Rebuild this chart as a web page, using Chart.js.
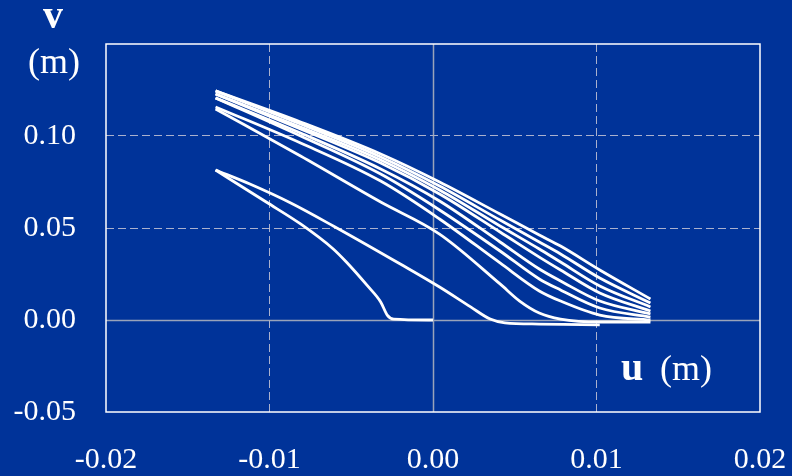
<!DOCTYPE html>
<html>
<head>
<meta charset="utf-8">
<script src="https://cdn.jsdelivr.net/npm/chart.js@4.4.1/dist/chart.umd.min.js"></script>
<style>
  html, body { margin: 0; padding: 0; background: #003399; }
  #wrap { width: 792px; height: 476px; }
</style>
</head>
<body>
<div id="wrap"><canvas id="chart"></canvas></div>
<script>
// tick labels
const xTicks = [-0.02, -0.01, 0.00, 0.01, 0.02];
const yTicks = [-0.05, 0.00, 0.05, 0.10];

// outer loops: shared u positions (m)
const uOuter = [-0.0133, -0.0081, -0.0032, 0.0004, 0.0041, 0.0065, 0.0078, 0.0102, 0.0133];
const vC1 = [0.1245, 0.1076, 0.0902, 0.0750, 0.0576, 0.0462, 0.0402, 0.0272, 0.0114];
const vC2 = [0.1245, 0.1065, 0.0886, 0.0728, 0.0543, 0.0424, 0.0359, 0.0228, 0.0092];
const vC3 = [0.1228, 0.1049, 0.0870, 0.0707, 0.0511, 0.0386, 0.0315, 0.0185, 0.0071];
const vC4 = [0.1228, 0.1038, 0.0853, 0.0685, 0.0478, 0.0342, 0.0272, 0.0147, 0.0049];
const vC5 = [0.1207, 0.1016, 0.0821, 0.0647, 0.0424, 0.0277, 0.0212, 0.0103, 0.0033];
const vC6 = [0.1207, 0.1000, 0.0793, 0.0598, 0.0375, 0.0223, 0.0163, 0.0065, 0.0016];
const vC7 = [0.1158, 0.0962, 0.0755, 0.0549, 0.0310, 0.0158, 0.0103, 0.0027, 0.0000];

// lowest outer loop has one extra point where it bends flat
const uC8 = [-0.0133, -0.0081, -0.0032, 0.0004, 0.0041, 0.0053, 0.0065, 0.0078, 0.0102, 0.0133];
const vC8 = [0.1147, 0.0891, 0.0641, 0.0467, 0.0196, 0.0103, 0.0038, 0.0005, -0.0011, -0.0011];

// first (small) loop, two branches
const uA = [-0.0133, -0.0102, -0.0081, -0.0061, -0.0053, -0.0040, -0.0032, -0.0028, -0.0024, 0.0000];
const vA = [0.0815, 0.0641, 0.0522, 0.0386, 0.0315, 0.0185, 0.0098, 0.0027, 0.0005, 0.0000];
const uB = [-0.0133, -0.0112, -0.0087, -0.0061, -0.0020, 0.0004, 0.0023, 0.0035, 0.0044, 0.0065, 0.0102];
const vB = [0.0815, 0.0739, 0.0636, 0.0511, 0.0304, 0.0179, 0.0071, 0.0005, -0.0016, -0.0022, -0.0027];

const curves = [
  [uA, vA], [uB, vB],
  [uOuter, vC1], [uOuter, vC2], [uOuter, vC3], [uOuter, vC4],
  [uOuter, vC5], [uOuter, vC6], [uOuter, vC7], [uC8, vC8]
];

const GRID = 'rgba(200,200,215,0.85)';
const isTick = (v, list) => list.some(t => Math.abs(t - v) < 1e-9);
const fmt = v => (Math.abs(v) < 1e-9 ? 0 : v).toFixed(2);

// solid zero lines + white frame, drawn under the curves
const frameLines = {
  id: 'frameLines',
  beforeDatasetsDraw(chart) {
    const { ctx, chartArea: a, scales: { x, y } } = chart;
    ctx.save();
    ctx.strokeStyle = 'rgba(170,175,190,0.9)';
    ctx.lineWidth = 1.5;
    ctx.beginPath();
    const x0 = Math.round(x.getPixelForValue(0)) + 0.5;
    const y0 = Math.round(y.getPixelForValue(0)) + 0.5;
    ctx.moveTo(x0, a.top); ctx.lineTo(x0, a.bottom);
    ctx.moveTo(a.left, y0); ctx.lineTo(a.right, y0);
    ctx.stroke();
    ctx.strokeStyle = '#ffffff';
    ctx.lineWidth = 1.5;
    ctx.strokeRect(a.left, a.top, a.right - a.left, a.bottom - a.top);
    ctx.restore();
  },
  afterDraw(chart) {
    const { ctx } = chart;
    ctx.save();
    ctx.fillStyle = '#ffffff';
    ctx.textAlign = 'center';
    ctx.textBaseline = 'alphabetic';
    ctx.font = 'bold 40px "Liberation Serif"';
    ctx.fillText('v', 53, 28);
    ctx.font = '36px "Liberation Serif"';
    ctx.fillText('(m)', 54, 73);
    ctx.textAlign = 'left';
    ctx.font = 'bold 40px "Liberation Serif"';
    ctx.fillText('u', 621, 380);
    ctx.font = '36px "Liberation Serif"';
    ctx.fillText('(m)', 660, 380);
    ctx.restore();
  }
};

new Chart(document.getElementById('chart'), {
  type: 'scatter',
  data: {
    datasets: curves.map(([us, vs]) => ({
      data: us.map((u, i) => ({ x: u, y: vs[i] })),
      showLine: true,
      borderColor: '#ffffff',
      borderWidth: 2.8,
      pointRadius: 0,
      cubicInterpolationMode: 'monotone',
      fill: false
    }))
  },
  plugins: [frameLines],
  options: {
    responsive: true,
    maintainAspectRatio: false,
    animation: false,
    layout: { padding: { top: 44, right: 32, left: 0, bottom: 0 } },
    plugins: { legend: { display: false }, tooltip: { enabled: false }, title: { display: false } },
    scales: {
      x: {
        type: 'linear',
        min: -0.02, max: 0.02,
        afterFit(scale) { scale.height = 64; scale.paddingLeft = 0; scale.paddingRight = 0; },
        ticks: {
          stepSize: 0.01,
          color: '#ffffff',
          padding: 30,
          maxRotation: 0,
          font: { family: '"Liberation Serif"', size: 30 },
          callback: v => isTick(v, xTicks) ? fmt(v) : null
        },
        grid: {
          drawTicks: false,
          lineWidth: 1,
          color: ctx => (ctx.tick && Math.abs(Math.abs(ctx.tick.value) - 0.01) < 1e-9) ? GRID : 'transparent'
        },
        border: { display: false, dash: [8, 4] }
      },
      y: {
        type: 'linear',
        min: -0.05, max: 0.15,
        afterFit(scale) { scale.width = 106; scale.paddingTop = 0; scale.paddingBottom = 0; },
        ticks: {
          stepSize: 0.05,
          color: '#ffffff',
          padding: 30,
          font: { family: '"Liberation Serif"', size: 30 },
          callback: v => isTick(v, yTicks) ? fmt(v) : null
        },
        grid: {
          drawTicks: false,
          lineWidth: 1,
          color: ctx => (ctx.tick && (Math.abs(ctx.tick.value - 0.05) < 1e-9 || Math.abs(ctx.tick.value - 0.10) < 1e-9)) ? GRID : 'transparent'
        },
        border: { display: false, dash: [8, 4] }
      }
    }
  }
});
</script>
</body>
</html>
